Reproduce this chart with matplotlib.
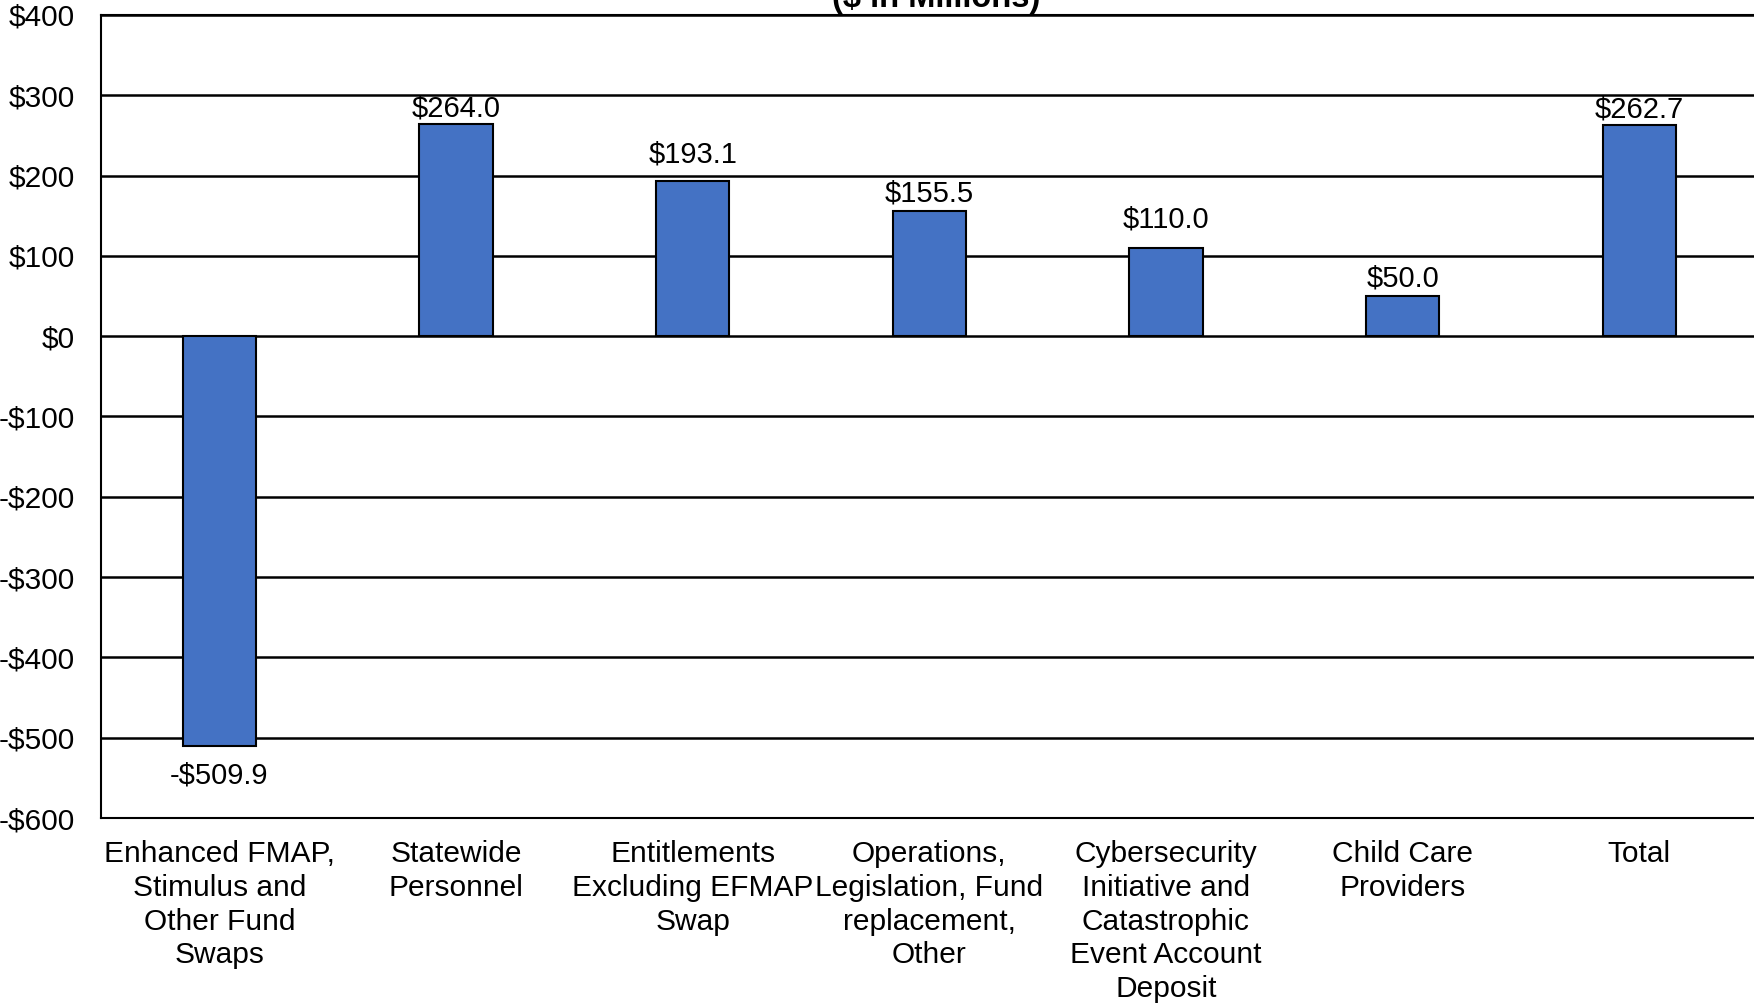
import matplotlib.pyplot as plt

categories = [
    "Enhanced FMAP,\nStimulus and\nOther Fund\nSwaps",
    "Statewide\nPersonnel",
    "Entitlements\nExcluding EFMAP\nSwap",
    "Operations,\nLegislation, Fund\nreplacement,\nOther",
    "Cybersecurity\nInitiative and\nCatastrophic\nEvent Account\nDeposit",
    "Child Care\nProviders",
    "Total",
]
values = [-509.9, 264.0, 193.1, 155.5, 110.0, 50.0, 262.7]
yticks = [400, 300, 200, 100, 0, -100, -200, -300, -400, -500, -600]

plt.rcParams["font.family"] = ["Liberation Sans", "DejaVu Sans"]
plt.rcParams["font.size"] = 21.5

fig = plt.figure(figsize=(17.54, 10.05), dpi=100)
ax = fig.add_axes([101 / 1754, 1 - 818 / 1005, 1 - 101 / 1754 + 0.002, (818 - 15) / 1005])

ax.set_axisbelow(True)
ax.yaxis.grid(True, color="black", linewidth=1.8)
x = range(len(categories))
ax.bar(x, values, width=0.31, color="#4472C4", edgecolor="black", linewidth=1.5, zorder=3)

# label distance from the bar end, in points (some nudged clear of gridlines)
label_offsets = [-21.7, 11.3, 19.3, 12.9, 20.1, 12.9, 11.3]
for xi, v, off in zip(x, values, label_offsets):
    label = f"-${abs(v):.1f}" if v < 0 else f"${v:.1f}"
    ax.annotate(label, (xi, v), xytext=(0, off), textcoords="offset points",
                ha="center", va="center", fontsize=21)

ax.set_xlim(-0.5, 6.5)
ax.set_ylim(-600, 400)
ax.set_yticks(yticks)
ax.set_yticklabels([f"-${abs(t)}" if t < 0 else f"${t}" for t in yticks])
ax.set_xticks(list(x))
ax.set_xticklabels(categories, linespacing=1.26)
ax.tick_params(axis="both", length=0)
ax.tick_params(axis="y", pad=19)
ax.tick_params(axis="x", pad=16)

for side in ["left", "bottom", "top"]:
    ax.spines[side].set_linewidth(1.5)
    ax.spines[side].set_color("black")
ax.spines["right"].set_visible(False)

fig.text(936 / 1754, 1 - 7 / 1005, "($ in Millions)", ha="center", va="baseline",
         fontsize=23.5, fontweight="bold")

fig.savefig("out.png", dpi=100)
